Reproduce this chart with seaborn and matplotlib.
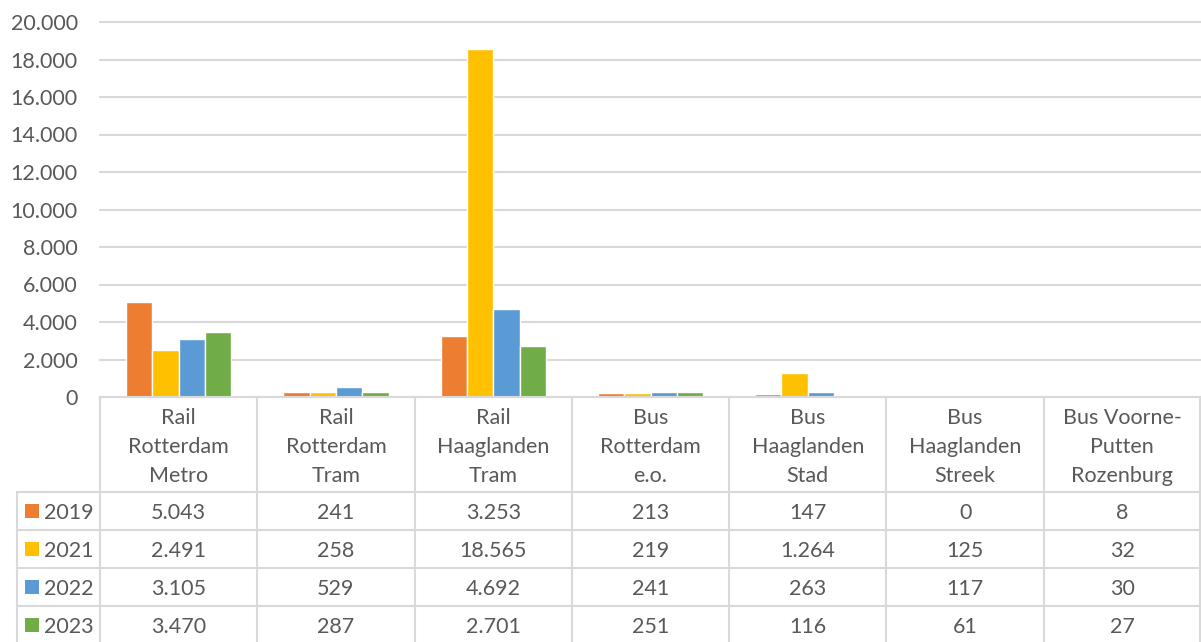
import matplotlib
matplotlib.use("Agg")
import matplotlib.pyplot as plt
import seaborn as sns
import pandas as pd
from matplotlib.lines import Line2D
from matplotlib.patches import Rectangle

categories = ["Rail\nRotterdam\nMetro", "Rail\nRotterdam\nTram", "Rail\nHaaglanden\nTram",
              "Bus\nRotterdam\ne.o.", "Bus\nHaaglanden\nStad", "Bus\nHaaglanden\nStreek",
              "Bus Voorne-\nPutten\nRozenburg"]
years = ["2019", "2021", "2022", "2023"]
v2019 = [5043, 241, 3253, 213, 147, 0, 8]
v2021 = [2491, 258, 18565, 219, 1264, 125, 32]
v2022 = [3105, 529, 4692, 241, 263, 117, 30]
v2023 = [3470, 287, 2701, 251, 116, 61, 27]
series = [v2019, v2021, v2022, v2023]
colors = ["#ED7D31", "#FFC000", "#5B9BD5", "#70AD47"]
yticks = [0, 2000, 4000, 6000, 8000, 10000, 12000, 14000, 16000, 18000, 20000]

def nl(v):
    return f"{v:,}".replace(",", ".")

sns.set_theme(style="white")
plt.rcParams['font.family'] = ['Lato', 'DejaVu Sans']

TXT = "#595959"
GRID = "#d9d9d9"
FS = 15.5

W, H = 1201, 642
fig = plt.figure(figsize=(W / 100, H / 100), dpi=100)

def fx(px):
    return px / W

def fy(py):
    return 1 - py / H

L, R, T, B = 100, 1201, 22, 397
ax = fig.add_axes([fx(L), fy(B), fx(R) - fx(L), fy(T) - fy(B)])

rows = []
for y, vals in zip(years, series):
    for c, v in zip(categories, vals):
        rows.append({"cat": c, "year": y, "value": v})
df = pd.DataFrame(rows)

sns.barplot(data=df, x="cat", y="value", hue="year", palette=colors, width=0.67,
            gap=0, ax=ax, legend=False, saturation=1, errorbar=None)

ax.set_xlim(-0.5, len(categories) - 0.5)
ax.set_ylim(0, 20000)
ax.set_yticks(yticks)
ax.set_yticklabels([nl(t) for t in yticks], color=TXT, fontsize=FS)
ax.set_xticks([])
ax.set_xlabel("")
ax.set_ylabel("")
ax.tick_params(axis="y", length=0, pad=16)
ax.yaxis.grid(True, color=GRID, lw=1.5)
for gl in ax.get_ygridlines():
    gl.set_clip_on(False)
ax.set_axisbelow(True)
for s in ["top", "right", "left"]:
    ax.spines[s].set_visible(False)
ax.spines["bottom"].set_color(GRID)
ax.spines["bottom"].set_linewidth(1.5)
ax.patch.set_alpha(0)

# data table
cw = (R - L) / len(categories)
row_tops = [492, 530, 568, 606]
row_h = 38
DY = 2

def line(x1, y1, x2, y2):
    fig.add_artist(Line2D([fx(x1), fx(x2)], [fy(y1), fy(y2)], transform=fig.transFigure,
                          color=GRID, lw=1.5))

for i in range(len(categories) + 1):
    x = min(L + i * cw, R - 1)
    line(x, B, x, H)
line(17, row_tops[0], 17, H)
for yt in row_tops:
    line(17, yt, R, yt)

for i, c in enumerate(categories):
    cx = L + (i + 0.5) * cw
    parts = c.split("\n")
    n = len(parts)
    for k, p in enumerate(parts):
        yy = 445 + DY + (k - (n - 1) / 2) * 29
        fig.text(fx(cx), fy(yy), p, ha="center", va="center", color=TXT, fontsize=FS)

for r, (y, vals, col) in enumerate(zip(years, series, colors)):
    cy = row_tops[r] + row_h / 2
    fig.add_artist(Rectangle((fx(25), fy(cy + 7)), fx(14), fy(0) - fy(14),
                             transform=fig.transFigure, color=col, lw=0))
    fig.text(fx(44), fy(cy + DY), y, ha="left", va="center", color=TXT, fontsize=FS)
    for i, v in enumerate(vals):
        cx = L + (i + 0.5) * cw
        fig.text(fx(cx), fy(cy + DY), nl(v), ha="center", va="center", color=TXT, fontsize=FS)

fig.savefig("out.png", dpi=100, facecolor="white")
